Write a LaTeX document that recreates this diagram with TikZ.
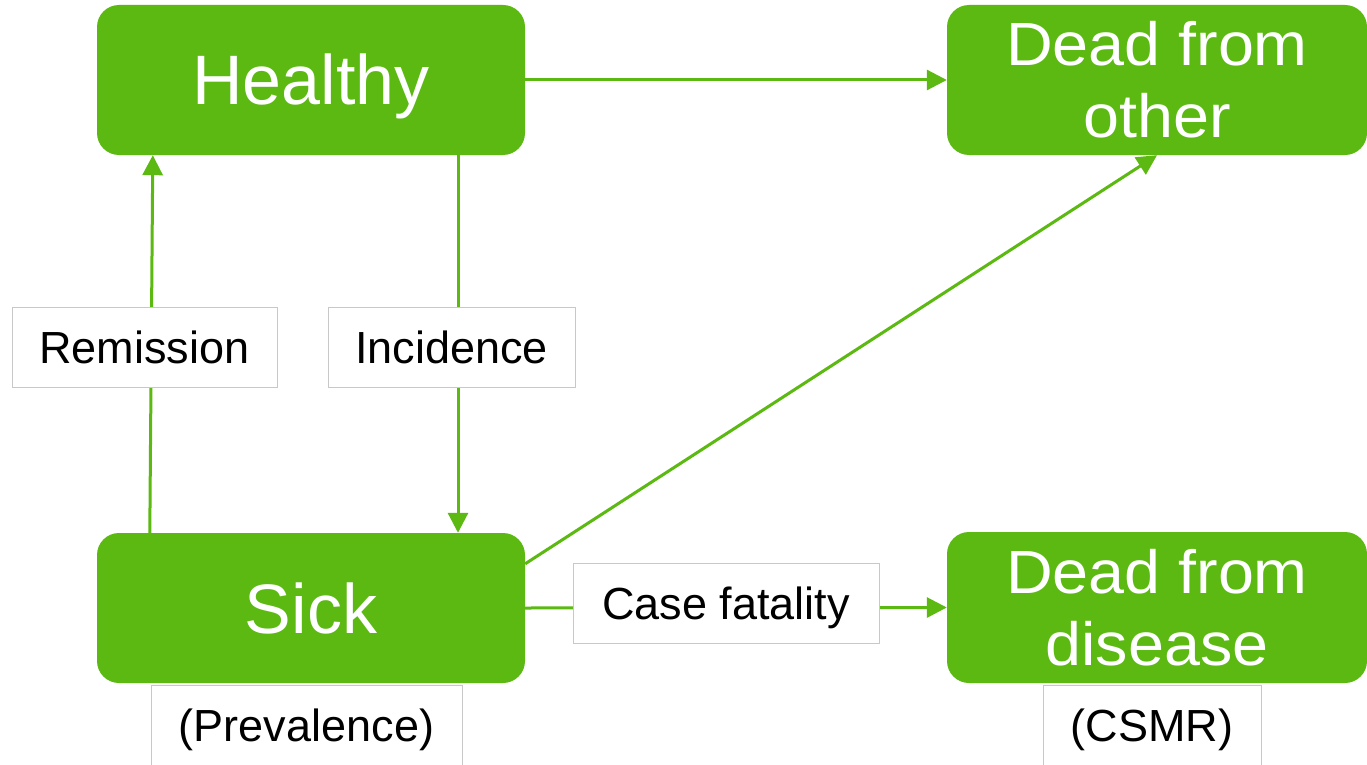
\documentclass[tikz,border=0pt]{standalone}
\usepackage{fontspec}
\setmainfont{Liberation Sans}
\newfontfamily\deadfont[FakeStretch=1.06]{Liberation Sans}
\usetikzlibrary{arrows.meta,calc}
\definecolor{grn}{RGB}{92,185,18}
\definecolor{lblgray}{RGB}{200,200,200}
\tikzset{
  state/.style={fill=grn, draw=none, rounded corners=22pt, minimum width=428pt, minimum height=150pt, inner sep=0pt, text=white, align=center},
  bigtxt/.style={font=\fontsize{70}{75}\selectfont, text height=50pt, text depth=0pt},
  deadtxt/.style={font=\deadfont\fontsize{61}{72}\selectfont},
  lbl/.style={fill=white, draw=lblgray, line width=1pt, inner sep=0pt, font=\fontsize{45}{54}\selectfont, text=black, text height=32pt, text depth=0pt},
  arr/.style={draw=grn, line width=3pt, -{Triangle[length=20pt,width=20pt]}},
  ln/.style={draw=grn, line width=3pt}
}
\begin{document}
\begin{tikzpicture}[x=1pt,y=-1pt]
\clip (0,0) rectangle (1367,765);
\fill[white] (0,0) rectangle (1367,765);
% states
\node[state,bigtxt] (healthy) at (311,80) {Healthy};
\node[state,deadtxt,minimum width=420pt] (deadother) at (1157,80) {Dead from\\other};
\node[state,bigtxt] (sick) at (311,608) {Sick};
\node[state,deadtxt,minimum width=420pt,minimum height=151pt] (deaddis) at (1157,607.5) {Dead from\\disease};
% connectors
\draw[arr] (healthy.east) -- (deadother.west);
\draw[arr] ($(healthy.south)+(147,0)$) -- ($(sick.north)+(147,0)$);
\draw[arr] ($(sick.north west)+(53,0)$) -- ($(healthy.south west)+(56,0)$);
\draw[arr] ($(sick.north east)+(0,31)$) -- (deadother.south);
\draw[arr] (sick.east) -- (deaddis.west);
% labels
\node[lbl, minimum width=265pt, minimum height=80pt] (rem) at (144.5,347) {Remission};
\node[lbl, minimum width=247pt, minimum height=80pt] (inc) at (451.5,347) {Incidence};
\node[lbl, minimum width=306pt, minimum height=80pt] (cf) at (726,603) {Case fatality};
\node[lbl, minimum width=311pt, minimum height=100pt, text depth=20pt] (prev) at (306.5,735) {(Prevalence)};
\node[lbl, minimum width=218pt, minimum height=100pt, text depth=20pt] (csmr) at (1152,735) {(CSMR)};
\end{tikzpicture}
\end{document}
